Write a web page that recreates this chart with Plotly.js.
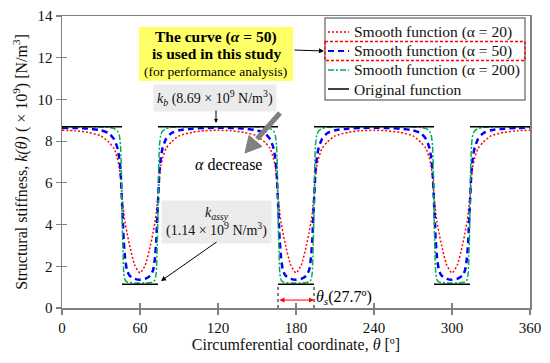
<!DOCTYPE html>
<html>
<head>
<meta charset="utf-8">
<script src="https://cdn.plot.ly/plotly-3.0.1.min.js"></script>
<style>html,body{margin:0;padding:0;background:#fff;}#chart{width:550px;height:363px;}</style>
</head>
<body>
<div id="chart"></div>
<script>
// ---------------- data ----------------
const kB = 8.69;      // N/m^3 (x1e9)
const kAssy = 1.14;
const thetaS = 27.7;
const dipCenters = [60, 180, 300];

const thetaSmooth = [0,
  10,20,30,36,40,42.5,44,45,45.5,46,46.5,47,47.5,48.5,50,52,56,60,64,68,70,71.5,72.5,73,73.5,74,74.5,75,76,77.5,80,84,90,100,110,
  120,
  130,140,150,156,160,162.5,164,165,165.5,166,166.5,167,167.5,168.5,170,172,176,180,184,188,190,191.5,192.5,193,193.5,194,194.5,195,196,197.5,200,204,210,220,230,
  240,
  250,260,270,276,280,282.5,284,285,285.5,286,286.5,287,287.5,288.5,290,292,296,300,304,308,310,311.5,312.5,313,313.5,314,314.5,315,316,317.5,320,324,330,340,350,
  360];

const kAlpha20 = [8.52,
  8.5,8.42,8.25,7.95,7.65,7.2,6.8,6.3,5.9,5.5,5.15,4.85,4.55,4.1,3.6,3.0,2.05,1.68,2.05,3.0,3.6,4.1,4.55,4.85,5.15,5.5,5.9,6.3,6.8,7.2,7.65,7.95,8.25,8.42,8.5,
  8.52,
  8.5,8.42,8.25,7.95,7.65,7.2,6.8,6.3,5.9,5.5,5.15,4.85,4.55,4.1,3.6,3.0,2.05,1.68,2.05,3.0,3.6,4.1,4.55,4.85,5.15,5.5,5.9,6.3,6.8,7.2,7.65,7.95,8.25,8.42,8.5,
  8.52,
  8.5,8.42,8.25,7.95,7.65,7.2,6.8,6.3,5.9,5.5,5.15,4.85,4.55,4.1,3.6,3.0,2.05,1.68,2.05,3.0,3.6,4.1,4.55,4.85,5.15,5.5,5.9,6.3,6.8,7.2,7.65,7.95,8.25,8.42,8.5,
  8.52];

const kAlpha50 = [8.64,
  8.63,8.6,8.52,8.38,8.1,7.7,7.2,6.6,6.0,5.3,4.6,3.9,3.2,2.4,1.8,1.55,1.4,1.35,1.4,1.55,1.8,2.4,3.2,3.9,4.6,5.3,6.0,6.6,7.2,7.7,8.1,8.38,8.52,8.6,8.63,
  8.64,
  8.63,8.6,8.52,8.38,8.1,7.7,7.2,6.6,6.0,5.3,4.6,3.9,3.2,2.4,1.8,1.55,1.4,1.35,1.4,1.55,1.8,2.4,3.2,3.9,4.6,5.3,6.0,6.6,7.2,7.7,8.1,8.38,8.52,8.6,8.63,
  8.64,
  8.63,8.6,8.52,8.38,8.1,7.7,7.2,6.6,6.0,5.3,4.6,3.9,3.2,2.4,1.8,1.55,1.4,1.35,1.4,1.55,1.8,2.4,3.2,3.9,4.6,5.3,6.0,6.6,7.2,7.7,8.1,8.38,8.52,8.6,8.63,
  8.64];

const kAlpha200 = [8.69,
  8.69,8.69,8.68,8.66,8.6,8.5,8.3,7.8,7.0,5.4,3.6,2.5,1.7,1.35,1.25,1.22,1.2,1.2,1.2,1.22,1.25,1.35,1.7,2.5,3.6,5.4,7.0,7.8,8.3,8.5,8.6,8.66,8.68,8.69,8.69,
  8.69,
  8.69,8.69,8.68,8.66,8.6,8.5,8.3,7.8,7.0,5.4,3.6,2.5,1.7,1.35,1.25,1.22,1.2,1.2,1.2,1.22,1.25,1.35,1.7,2.5,3.6,5.4,7.0,7.8,8.3,8.5,8.6,8.66,8.68,8.69,8.69,
  8.69,
  8.69,8.69,8.68,8.66,8.6,8.5,8.3,7.8,7.0,5.4,3.6,2.5,1.7,1.35,1.25,1.22,1.2,1.2,1.2,1.22,1.25,1.35,1.7,2.5,3.6,5.4,7.0,7.8,8.3,8.5,8.6,8.66,8.68,8.69,8.69,
  8.69];

const thetaOrig = [0,46.15,null,46.15,73.85,null,73.85,166.15,null,166.15,193.85,null,193.85,286.15,null,286.15,313.85,null,313.85,360];
const kOrig = [8.69,8.69,null,1.14,1.14,null,8.69,8.69,null,1.14,1.14,null,8.69,8.69,null,1.14,1.14,null,8.69,8.69];

const seriesNames = ['Smooth function (\u03b1 = 20)','Smooth function (\u03b1 = 50)','Smooth function (\u03b1 = 200)','Original function'];
const xTicks = [0,60,120,180,240,300,360];
const yTicks = [0,2,4,6,8,10,12,14];

// ---------------- layout helpers ----------------
const L = 62, T = 16, W = 468, H = 292;
const X = p => (p - L) / W;
const Y = p => (T + H - p) / H;
const FONT = 'Liberation Serif, Times New Roman, serif';
const styles = [
  {color:'#ff0000', width:1.5, dash:'2px,2px'},
  {color:'#0000ff', width:2.5, dash:'6px,4px'},
  {color:'#00b050', width:1.5, dash:'6px,2px,2px,2px'},
  {color:'#000000', width:1.5, dash:'solid'}
];

const traces = [
  {x: thetaSmooth, y: kAlpha20, name: seriesNames[0]},
  {x: thetaSmooth, y: kAlpha50, name: seriesNames[1]},
  {x: thetaSmooth, y: kAlpha200, name: seriesNames[2]},
  {x: thetaOrig, y: kOrig, name: seriesNames[3]}
].map((t, i) => Object.assign(t, {
  type: 'scatter', mode: 'lines', showlegend: false,
  line: Object.assign({}, styles[i], i < 3 ? {shape: 'spline', smoothing: 0.6} : {}),
  hoverinfo: 'skip'
}));

// ---------------- legend (manual) ----------------
const legY = [32, 51, 70, 89];
const shapes = [];
const annotations = [];
const note = o => annotations.push(Object.assign({xref:'paper', yref:'paper', xanchor:'center', yanchor:'middle', showarrow:false}, o));
shapes.push({type:'rect', xref:'paper', yref:'paper', x0:X(325), x1:X(525), y0:Y(18), y1:Y(100),
  line:{color:'#808080', width:1.5}, fillcolor:'#ffffff', layer:'above'});
legY.forEach((py, i) => {
  shapes.push({type:'line', xref:'paper', yref:'paper', x0:X(328), x1:X(349), y0:Y(py), y1:Y(py),
    line:{color:styles[i].color, width:Math.min(styles[i].width, 2), dash:styles[i].dash}, layer:'above'});
  note({x:X(352), y:Y(py), xanchor:'left', text: seriesNames[i], font:{family:FONT, size:15.5, color:'#111'}});
});
// red dashed highlight around alpha=50 entry
shapes.push({type:'rect', xref:'paper', yref:'paper', x0:X(325), x1:X(525), y0:Y(41.5), y1:Y(60.5),
  line:{color:'#ff0000', width:1.5, dash:'3px,2px'}, layer:'above'});

// yellow callout
shapes.push({type:'rect', xref:'paper', yref:'paper', x0:X(139), x1:X(293), y0:Y(27), y1:Y(81),
  line:{width:0}, fillcolor:'#ffff66', layer:'above'});
note({x:X(216), y:Y(37), text:'<b>The curve (<i>\u03b1</i> = 50)</b>', font:{family:FONT, size:15.5, color:'#000'}});
note({x:X(216), y:Y(54), text:'<b>is used in this study</b>', font:{family:FONT, size:15.5, color:'#000'}});
note({x:X(215), y:Y(71), text:'(for performance analysis)', font:{family:FONT, size:13.5, color:'#000'}});
note({x:X(324), y:Y(51), ax:-31, ay:-1, text:'', showarrow:true, arrowhead:2, arrowsize:1, arrowwidth:1, arrowcolor:'#000'});

// k_b label
note({x:X(215), y:Y(98), text:'<i>k<sub>b</sub></i> (8.69 \u00d7 10<sup>9</sup> N/m<sup>3</sup>)',
  bgcolor:'#ebebeb', borderpad:3, font:{family:FONT, size:14, color:'#111'}});
note({x:X(216), y:Y(123), ax:0, ay:-14, text:'', showarrow:true, arrowhead:2, arrowsize:0.8, arrowwidth:1, arrowcolor:'#000'});

// alpha decrease (thick gray arrow built from a line + triangle head)
note({x:X(228), y:Y(165), text:'<i>\u03b1</i> decrease', font:{family:FONT, size:16, color:'#000'}});
shapes.push({type:'line', xref:'paper', yref:'paper', x0:X(280), y0:Y(113), x1:X(257), y1:Y(139),
  line:{color:'#808080', width:5}, layer:'above'});
shapes.push({type:'path', xref:'paper', yref:'paper',
  path:`M ${X(245)} ${Y(153)} L ${X(262)} ${Y(146.5)} L ${X(249)} ${Y(135.5)} Z`,
  fillcolor:'#808080', line:{color:'#808080', width:1}, layer:'above'});

// k_assy label
note({x:X(216), y:Y(222), text:'<i>k<sub>assy</sub></i><br>(1.14 \u00d7 10<sup>9</sup> N/m<sup>3</sup>)',
  bgcolor:'#ebebeb', borderpad:4, font:{family:FONT, size:14, color:'#111'}});
note({x:X(161), y:Y(281), ax:57, ay:-40, text:'', showarrow:true, arrowhead:2, arrowsize:1, arrowwidth:1, arrowcolor:'#000'});

// theta_s marker
const c = dipCenters[1];
[c - thetaS/2, c + thetaS/2].forEach(xv => {
  shapes.push({type:'line', xref:'x', yref:'y', x0:xv, x1:xv, y0:0, y1:kAssy,
    line:{color:'#000', width:1, dash:'dot'}, layer:'above'});
});
annotations.push({xref:'x', yref:'y', axref:'x', ayref:'y', x:c + thetaS/2, y:0.38, ax:c - thetaS/2, ay:0.38,
  text:'', showarrow:true, arrowside:'end+start', arrowhead:2, arrowsize:1, arrowwidth:1, arrowcolor:'#ff0000'});
note({x:X(314), y:Y(297), xanchor:'left', text:'<i>\u03b8<sub>s</sub></i>(27.7\u00ba)', font:{family:FONT, size:16, color:'#000'}});

const axisCommon = {
  showgrid:false, zeroline:false, linecolor:'#808080', linewidth:1.5,
  tickcolor:'#808080', tickwidth:1.2, ticklen:5, ticks:'outside',
  tickfont:{family:FONT, size:15, color:'#111'}
};

const layout = {
  width:550, height:363,
  margin:{l:L, r:550-L-W, t:T, b:363-T-H, pad:0},
  paper_bgcolor:'#fff', plot_bgcolor:'#fff',
  showlegend:false,
  xaxis: Object.assign({}, axisCommon, {range:[0,360], tickvals:xTicks, mirror:true,
    title:{text:'Circumferential coordinate, <i>\u03b8</i> [\u00ba]', font:{family:FONT, size:16, color:'#111'}, standoff:4}}),
  yaxis: Object.assign({}, axisCommon, {range:[0,14], tickvals:yTicks, mirror:true,
    title:{text:'Structural stiffness, <i>k(\u03b8)</i> ( \u00d7 10<sup>9</sup>) [N/m<sup>3</sup>]', font:{family:FONT, size:16, color:'#111'}, standoff:6}}),
  xaxis2: {overlaying:'x', range:[0,360], tickvals:xTicks, ticks:'inside', ticklen:5, tickwidth:1.2, tickcolor:'#808080',
    showticklabels:false, showgrid:false, zeroline:false, showline:false, side:'bottom'},
  yaxis2: {overlaying:'y', range:[0,14], tickvals:yTicks, ticks:'inside', ticklen:5, tickwidth:1.2, tickcolor:'#808080',
    showticklabels:false, showgrid:false, zeroline:false, showline:false, side:'left'},
  shapes: shapes,
  annotations: annotations
};

// invisible trace to anchor overlay axes
traces.push({type:'scatter', x:[0], y:[0], xaxis:'x2', yaxis:'y2', mode:'markers', marker:{opacity:0}, showlegend:false, hoverinfo:'skip'});

Plotly.newPlot('chart', traces, layout, {displayModeBar:false, staticPlot:true});
</script>
</body>
</html>
